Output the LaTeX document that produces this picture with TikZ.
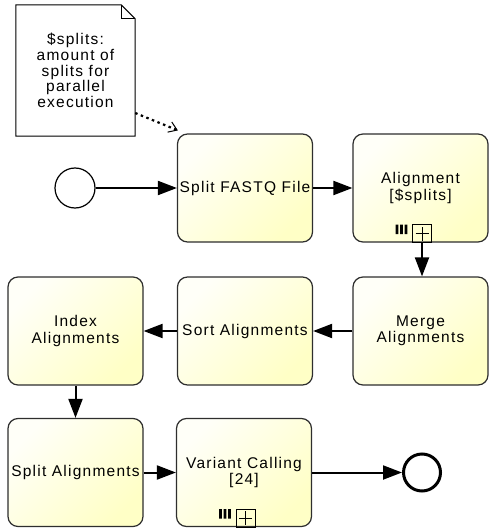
\documentclass[tikz,border=0pt]{standalone}
\usepackage{fontspec}
\newfontfamily\bpmnfont[LetterSpace=8]{Liberation Sans}
\usetikzlibrary{arrows.meta}
\definecolor{taskhi}{HTML}{FFFFF8}
\definecolor{tasklo}{HTML}{FFFFC6}
\definecolor{taskedge}{HTML}{2E2E2E}
\begin{document}
\begin{tikzpicture}[x=1pt,y=-1pt,
  task/.style={draw=taskedge, line width=1.2pt, rounded corners=10pt,
    minimum width=135pt, minimum height=108pt, inner sep=2pt,
    top color=taskhi, bottom color=tasklo, shading angle=45,
    align=center, font=\bpmnfont\fontsize{15.5}{16.5}\selectfont},
  noteshape/.style={minimum width=119pt, minimum height=131pt, inner sep=0pt,
    align=center, font=\bpmnfont\fontsize{15.5}{15.8}\selectfont},
  startev/.style={circle, draw, line width=1.2pt, minimum size=40pt, inner sep=0pt},
  endev/.style={circle, draw, line width=3pt, minimum size=37pt, inner sep=0pt},
  flow/.style={line width=2pt, -{Triangle[length=19pt,width=14pt]}},
  assoc/.style={line width=2.2pt, dash pattern=on 2.5pt off 3.5pt,
    -{Straight Barb[length=8pt,width=11pt,line width=1pt]}},
  mimarker/.pic={
    \draw[line width=0.9pt] (-8,0) rectangle (11,-18);
    \draw[line width=0.9pt] (1.5,-2) -- (1.5,-16) (-5,-9) -- (8,-9);
    \fill (-25,-18) rectangle (-22.2,-8.5)
          (-20.5,-18) rectangle (-17.7,-8.5)
          (-16,-18) rectangle (-13.2,-8.5);
  }]
\useasboundingbox (0,0) rectangle (488,529);

% text annotation with folded corner
\node[noteshape] (note) at (75.5,70.5) {};
\draw[line width=1pt, fill=white]
  (note.south west) -- (note.north west) -- ([xshift=-14pt]note.north east)
  -- ([yshift=-14pt]note.north east) -- (note.south east) -- cycle;
\draw[line width=1pt]
  ([xshift=-14pt]note.north east) -- ([xshift=-14pt,yshift=-14pt]note.north east)
  -- ([yshift=-14pt]note.north east);
\node[noteshape] (notetext) at (note.center)
  {\$splits:\\amount of\\splits for\\parallel\\execution};

% events
\node[startev] (start) at (75,188) {};
\node[endev] (stop) at (422,472.5) {};

% tasks
\node[task] (split)   at (245,188)   {Split FASTQ File};
\node[task] (align)   at (420.5,188) {Alignment\\{}[\$splits]};
\node[task] (merge)   at (420.5,331) {Merge\\Alignments};
\node[task] (sort)    at (245,331)   {Sort Alignments};
\node[task] (index)   at (75.5,331)  {Index\\Alignments};
\node[task] (splital) at (75.5,472.5) {Split Alignments};
\node[task] (variant) at (244,472.5) {Variant Calling\\{}[24]};

% multi-instance markers
\pic at (align.south) {mimarker};
\pic at (variant.south) {mimarker};

% sequence flows
\draw[flow] (start) -- (split);
\draw[flow] (split) -- (align);
\draw[flow] (align.south) ++(1.5,0) coordinate (alignout) -- (alignout |- merge.north);
\draw[flow] (merge) -- (sort);
\draw[flow] (sort) -- (index);
\draw[flow] (index) -- (splital);
\draw[flow] (splital) -- (variant);
\draw[flow] (variant) -- (stop);

% association
\coordinate (noteout) at (note.east |- 0,113);
\draw[assoc] (noteout) -- ([xshift=1pt,yshift=3pt]split.north west);
\end{tikzpicture}
\end{document}
